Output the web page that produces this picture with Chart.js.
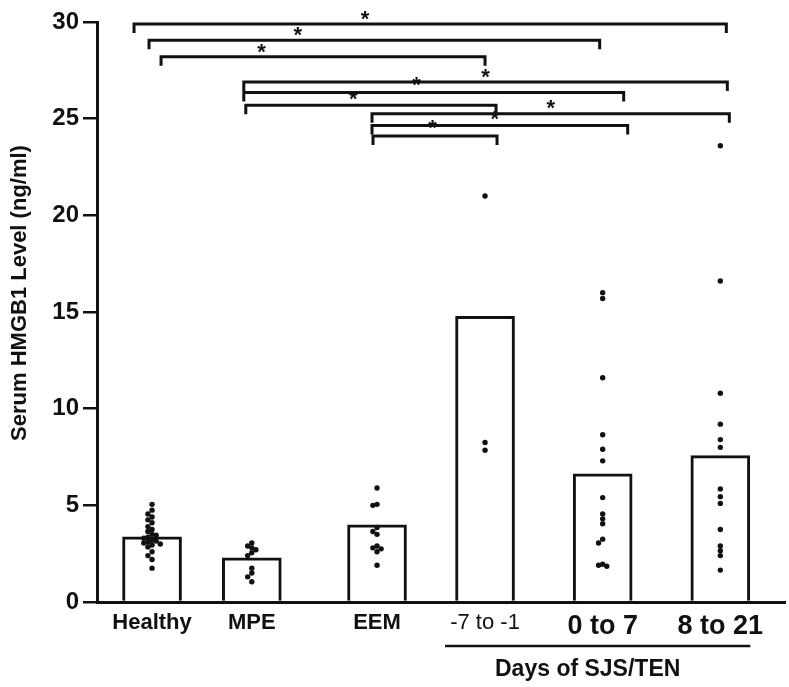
<!DOCTYPE html>
<html>
<head>
<meta charset="utf-8">
<script src="https://cdn.jsdelivr.net/npm/chart.js@4.4.1/dist/chart.umd.min.js"></script>
<style>
  body { margin: 0; background: #fff; }
</style>
</head>
<body>
<canvas id="hmgbChart" width="789" height="687"></canvas>
<script>
// Groups and bar heights (ng/ml)
let groups = ["Healthy", "MPE", "EEM", "-7 to -1", "0 to 7", "8 to 21"];
let barValues = [3.37, 2.28, 3.99, 14.78, 6.63, 7.57];

// Individual patient values per group
let ptsHealthy = [5.05, 4.75, 4.55, 4.4, 4.25, 4.1, 3.9, 3.75, 3.65, 3.5, 3.45, 3.35, 3.3, 3.2, 3.15, 3.1, 3.05, 3.0, 2.95, 2.85, 2.6, 2.4, 2.2, 1.75];
let ptsMPE = [3.05, 2.9, 2.8, 2.7, 2.55, 2.4, 1.75, 1.5, 1.3, 1.05];
let ptsEEM = [5.9, 5.05, 5.0, 3.85, 3.65, 3.5, 2.9, 2.8, 2.75, 2.6, 1.9];
let ptsEarly = [21.0, 8.25, 7.85];
let ptsWeek1 = [16.0, 15.7, 11.6, 8.65, 7.9, 7.3, 5.4, 4.55, 4.3, 4.05, 3.25, 3.05, 1.95, 1.9, 1.85];
let ptsLate = [23.6, 16.6, 10.8, 9.2, 8.4, 8.0, 5.85, 5.45, 5.1, 3.75, 2.9, 2.65, 2.4, 1.65];
let groupPoints = [ptsHealthy, ptsMPE, ptsEEM, ptsEarly, ptsWeek1, ptsLate];

let yTicks = [0, 5, 10, 15, 20, 25, 30];

// Significance brackets: [from group, to group] and height of the bar (ng/ml)
let sigPairs = [[0, 5], [0, 4], [0, 3], [1, 5], [1, 4], [1, 3], [2, 5], [2, 4], [2, 3]];
let sigLevels = [29.9, 29.05, 28.2, 26.9, 26.35, 25.7, 25.25, 24.65, 24.1];

// ---- layout (not data) ----
let groupPos = [8.0, 22.5, 40.7, 56.4, 73.5, 90.6]; // centre of each group on the 0-100 x scale
let nudgeLeft = [-18, -3, 9, -8, -8, -6, -5, -5, -4];
let nudgeRight = [6, -3, 0, 7, 21, 11, 9, 25, 12];
let starFrac = [0.39, 0.33, 0.31, 0.5, 0.455, 0.43, 0.5, 0.48, 0.48];
let starLift = [2, 2, 2, 2, 5, 3, 3, 3, 5];
let ink = "#111";
let fontFamily = "'Liberation Sans', Arial, sans-serif";

// spread dots sideways when they overlap
function swarm(values, centre) {
  let placed = [];
  let offsets = [0, -1, 1, -2, 2];
  values.forEach(function (v) {
    let k = offsets.find(function (o) {
      return !placed.some(function (p) {
        return p.o === o && Math.abs(p.v - v) < 0.25;
      });
    });
    if (k === undefined) k = 0;
    placed.push({ v: v, o: k });
  });
  return placed.map(function (p) {
    return { x: centre + p.o * 0.6, y: p.v };
  });
}

let dotData = [];
groupPoints.forEach(function (vals, i) {
  dotData = dotData.concat(swarm(vals, groupPos[i]));
});

let barData = barValues.map(function (v, i) {
  return { x: groupPos[i], y: v };
});

// brackets, stars, y title, "Days of SJS/TEN"
let extras = {
  id: "extras",
  afterDraw: function (chart) {
    let ctx = chart.ctx;
    let xs = chart.scales.x;
    let ys = chart.scales.y;
    ctx.save();
    ctx.strokeStyle = ink;
    ctx.fillStyle = ink;
    ctx.lineWidth = 3;
    ctx.lineCap = "butt";

    sigPairs.forEach(function (pair, i) {
      let xL = xs.getPixelForValue(groupPos[pair[0]]) + nudgeLeft[i];
      let xR = xs.getPixelForValue(groupPos[pair[1]]) + nudgeRight[i];
      let y = ys.getPixelForValue(sigLevels[i]);
      ctx.beginPath();
      ctx.moveTo(xL, y + 9);
      ctx.lineTo(xL, y);
      ctx.lineTo(xR, y);
      ctx.lineTo(xR, y + 9);
      ctx.stroke();

      ctx.font = "bold 22px " + fontFamily;
      ctx.textAlign = "center";
      ctx.textBaseline = "alphabetic";
      ctx.fillText("*", xL + starFrac[i] * (xR - xL), y + 4 - starLift[i]);
    });

    // y axis title
    ctx.save();
    ctx.translate(20, (chart.chartArea.top + chart.chartArea.bottom) / 2 - 19);
    ctx.rotate(-Math.PI / 2);
    ctx.font = "bold 22px " + fontFamily;
    ctx.textAlign = "center";
    ctx.textBaseline = "middle";
    ctx.fillText("Serum HMGB1 Level (ng/ml)", 0, 0);
    ctx.restore();

    // days of SJS/TEN underline
    let lx1 = xs.getPixelForValue(groupPos[3]) - 40;
    let lx2 = xs.getPixelForValue(groupPos[5]) + 30;
    let ly = chart.chartArea.bottom + 44;
    ctx.lineWidth = 2.5;
    ctx.beginPath();
    ctx.moveTo(lx1, ly);
    ctx.lineTo(lx2, ly);
    ctx.stroke();
    ctx.font = "bold 23px " + fontFamily;
    ctx.textAlign = "center";
    ctx.textBaseline = "middle";
    ctx.fillText("Days of SJS/TEN", (lx1 + lx2) / 2 - 10, ly + 24);
    ctx.restore();
  },
};

let ctx = document.getElementById("hmgbChart").getContext("2d");

let myChart = new Chart(ctx, {
  type: "bar",
  data: {
    datasets: [
      {
        type: "scatter",
        data: dotData,
        backgroundColor: ink,
        borderWidth: 0,
        pointRadius: 2.7,
        order: 0,
      },
      {
        type: "bar",
        data: barData,
        backgroundColor: "#fff",
        borderColor: ink,
        borderWidth: 3,
        borderSkipped: "start",
        barThickness: 59,
        order: 1,
      },
    ],
  },
  options: {
    responsive: false,
    animation: false,
    layout: {
      padding: { top: 22, right: 4, left: 0, bottom: 0 },
    },
    plugins: {
      legend: { display: false },
      tooltip: { enabled: false },
    },
    scales: {
      x: {
        type: "linear",
        min: 0,
        max: 100,
        offset: false,
        z: 1,
        grid: { display: false, drawTicks: false },
        border: { display: true, color: ink, width: 3 },
        afterBuildTicks: function (scale) {
          scale.ticks = groupPos.map(function (v) {
            return { value: v };
          });
        },
        afterFit: function (scale) {
          scale.height = 85;
        },
        ticks: {
          autoSkip: false,
          maxRotation: 0,
          padding: 8,
          color: ink,
          callback: function (value, index) {
            return groups[index];
          },
          font: function (c) {
            if (c.index === 3) {
              return { family: fontFamily, size: 22, weight: "normal" };
            }
            if (c.index > 3) {
              return { family: fontFamily, size: 27, weight: "bold" };
            }
            return { family: fontFamily, size: 22, weight: "bold" };
          },
        },
      },
      y: {
        min: 0,
        max: 30,
        z: 1,
        afterBuildTicks: function (scale) {
          scale.ticks = yTicks.map(function (v) {
            return { value: v };
          });
        },
        afterFit: function (scale) {
          scale.width = 97;
        },
        grid: {
          drawOnChartArea: false,
          drawTicks: true,
          tickLength: 14,
          lineWidth: 2.5,
          color: ink,
        },
        border: { display: true, color: ink, width: 3 },
        ticks: {
          padding: 4,
          color: ink,
          font: { family: fontFamily, size: 24, weight: "bold" },
        },
      },
    },
  },
  plugins: [extras],
});
</script>
</body>
</html>
